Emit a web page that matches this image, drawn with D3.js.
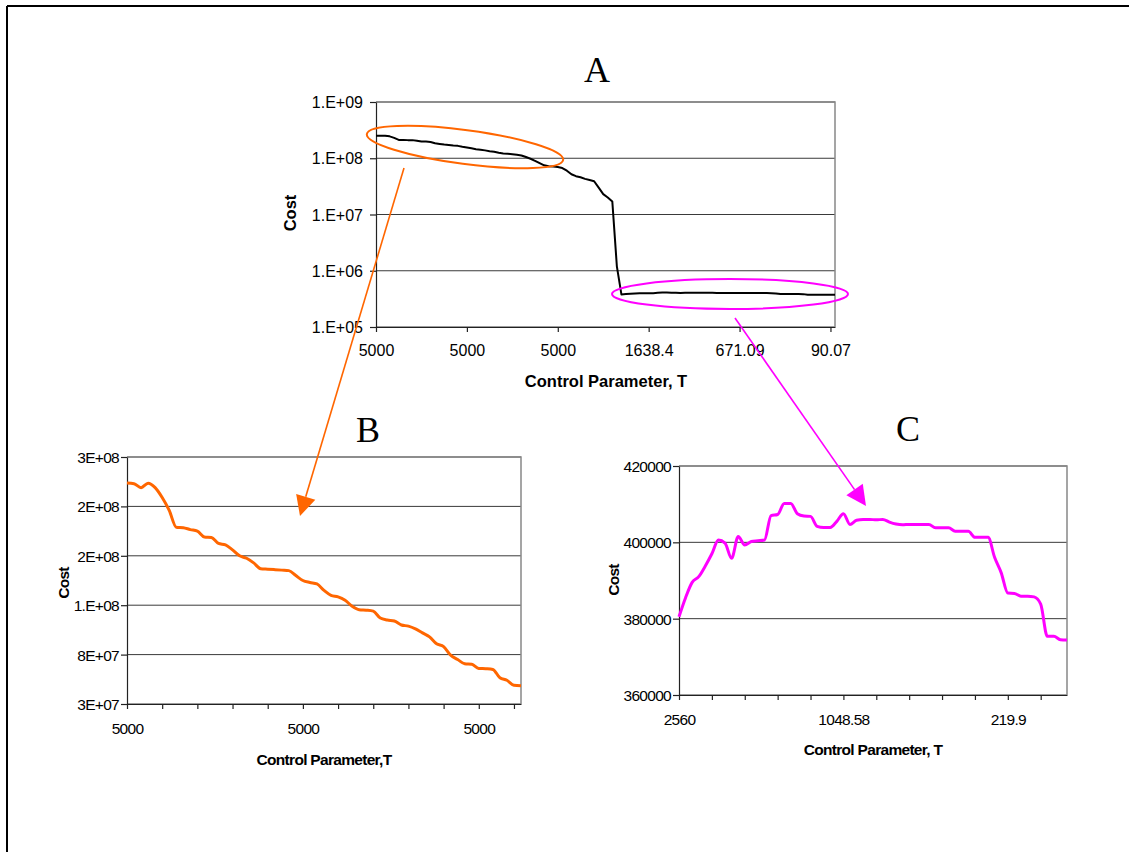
<!DOCTYPE html>
<html>
<head>
<meta charset="utf-8">
<script src="https://cdn.jsdelivr.net/npm/d3@7"></script>
<style>
  body { margin: 0; background: #fff; }
  text { font-family: "Liberation Sans", Arial, sans-serif; fill: #000; }
</style>
</head>
<body>
<div id="chart"></div>
<script>
// ---- data ----

// A: whole run, log axis
var costA = [
  2.52e8, 2.52e8, 2.52e8, 2.45e8, 2.3e8, 2.12e8, 2.12e8, 2.1e8, 2.1e8, 2.05e8,
  1.98e8, 1.98e8, 1.95e8, 1.85e8, 1.8e8, 1.75e8, 1.72e8, 1.68e8, 1.66e8, 1.6e8,
  1.55e8, 1.5e8, 1.45e8, 1.42e8, 1.38e8, 1.33e8, 1.3e8, 1.25e8, 1.22e8, 1.2e8,
  1.18e8, 1.15e8, 1.12e8, 1.05e8, 9.8e7, 9.0e7, 8.2e7, 7.5e7, 7.2e7, 7.1e7,
  7.0e7, 6.7e7, 6.0e7, 5.2e7, 4.8e7, 4.6e7, 4.3e7, 4.1e7, 3.9e7, 3.0e7,
  2.3e7, 2.0e7, 1.7e7, 1.2e6, 3.8e5, 3.85e5, 3.9e5, 3.95e5, 4.0e5, 4.0e5,
  4.0e5, 4.0e5, 4.05e5, 4.1e5, 4.1e5, 4.07e5, 4.05e5, 4.04e5, 4.05e5, 4.06e5,
  4.06e5, 4.06e5, 4.05e5, 4.05e5, 4.05e5, 4.04e5, 4.04e5, 4.04e5, 4.03e5, 4.03e5,
  4.03e5, 4.02e5, 4.02e5, 4.02e5, 4.01e5, 4.01e5, 4.01e5, 4.0e5, 3.95e5, 3.87e5,
  3.86e5, 3.86e5, 3.86e5, 3.85e5, 3.84e5, 3.76e5, 3.75e5, 3.75e5, 3.75e5, 3.74e5,
  3.74e5, 3.74e5
];
var xLabelsA = ["5000", "5000", "5000", "1638.4", "671.09", "90.07"];
var yTicksA = [1e5, 1e6, 1e7, 1e8, 1e9];
var yLabelsA = ["1.E+05", "1.E+06", "1.E+07", "1.E+08", "1.E+09"];

// B: zoom on the start of the run
var costB = [
  2.537e8, 2.53e8, 2.49e8, 2.535e8, 2.49e8, 2.39e8, 2.26e8, 2.09e8, 2.085e8, 2.065e8,
  2.05e8, 1.99e8, 1.985e8, 1.925e8, 1.91e8, 1.86e8, 1.80e8, 1.775e8, 1.728e8, 1.67e8,
  1.665e8, 1.66e8, 1.655e8, 1.65e8, 1.60e8, 1.55e8, 1.53e8, 1.515e8, 1.45e8, 1.40e8,
  1.385e8, 1.35e8, 1.29e8, 1.255e8, 1.25e8, 1.24e8, 1.17e8, 1.15e8, 1.14e8, 1.10e8,
  1.088e8, 1.06e8, 1.02e8, 9.8e7, 9.1e7, 8.8e7, 7.95e7, 7.5e7, 7.08e7, 7.03e7,
  6.6e7, 6.57e7, 6.5e7, 5.65e7, 5.4e7, 4.9e7, 4.85e7
];
var xLabelsB = ["5000", "5000", "5000"];
var yTicksB = [3e7, 8e7, 1.3e8, 1.8e8, 2.3e8, 2.8e8];
var yLabelsB = ["3E+07", "8E+07", "1.E+08", "2E+08", "2E+08", "3E+08"];

// C: zoom on the tail of the run
var costC = [
  380500, 385500, 389500, 391000, 393800, 397000, 400600, 399800, 395800, 401500,
  399300, 400200, 400400, 400600, 407000, 407300, 410200, 410200, 407500, 406900,
  406800, 404200, 403900, 403900, 405500, 407500, 404700, 405800, 406000, 406000,
  405900, 406000, 405300, 404800, 404600, 404700, 404700, 404700, 404700, 403800,
  403800, 403800, 402900, 402900, 402900, 401300, 401300, 401300, 396000, 392000,
  386700, 386600, 385900, 385900, 385700, 383800, 375400, 375400, 374500, 374400
];
var xLabelsC = ["2560", "1048.58", "219.9"];
var yTicksC = [360000, 380000, 400000, 420000];
var yLabelsC = ["360000", "380000", "400000", "420000"];

// ---- drawing ----
var svg = d3.select("#chart").append("svg")
    .attr("width", 1129)
    .attr("height", 852);

// page frame (top and left only)
svg.append("line").attr("x1", 7).attr("y1", 6).attr("x2", 1129).attr("y2", 6)
    .attr("stroke", "#000").attr("stroke-width", 2);
svg.append("line").attr("x1", 7).attr("y1", 6).attr("x2", 7).attr("y2", 852)
    .attr("stroke", "#000").attr("stroke-width", 2);

function drawPanel(p) {
    var g = svg.append("g").attr("transform", `translate(${p.left}, ${p.top})`);
    var n = p.data.length;

    var x = d3.scaleLinear().domain([0, n - 1]).range([0, p.width]);
    var y = (p.log ? d3.scaleLog() : d3.scaleLinear())
        .domain(d3.extent(p.yTicks))
        .range([p.height, 0]);

    // grid
    g.selectAll(".grid").data(p.yTicks).enter()
        .append("line")
        .attr("x1", 0).attr("x2", p.width)
        .attr("y1", d => y(d)).attr("y2", d => y(d))
        .attr("stroke", "#3a3a3a").attr("stroke-width", 1);

    // frame top / right
    g.append("path")
        .attr("d", `M0,0H${p.width}V${p.height}`)
        .attr("fill", "none").attr("stroke", "#888").attr("stroke-width", 1.5);

    var tickVals = d3.range(0, n, p.tickEvery);
    var xAxis = d3.axisBottom(x)
        .tickValues(tickVals)
        .tickSize(5).tickSizeOuter(0)
        .tickFormat((d, i) => i % p.labelEvery === 0 ? p.xLabels[i / p.labelEvery] : "");
    var yAxis = d3.axisLeft(y)
        .tickValues(p.yTicks)
        .tickSize(6).tickSizeOuter(0)
        .tickFormat((d, i) => p.yLabels[i]);

    var gx = g.append("g")
        .attr("transform", `translate(0, ${p.height})`)
        .call(xAxis);
    var gy = g.append("g").call(yAxis);

    [gx, gy].forEach(function (a) {
        a.selectAll("path, line").attr("stroke", "#222").attr("stroke-width", 1.2);
        a.selectAll("text")
            .style("font-size", p.fontSize + "px")
            .style("letter-spacing", p.spacing + "px")
            .style("font-family", '"Liberation Sans", Arial, sans-serif');
    });
    gx.selectAll("text").attr("dy", null).attr("y", p.xLabelDy);
    gy.selectAll("text").attr("x", p.yLabelDx).attr("dy", "0.35em");

    // line
    var line = d3.line()
        .x((d, i) => x(i))
        .y(d => y(d))
        .curve(p.curve);

    g.append("path")
        .datum(p.data)
        .attr("d", line)
        .attr("fill", "none")
        .attr("stroke", p.color)
        .attr("stroke-width", p.lineWidth)
        .attr("stroke-linejoin", "round");

    // titles
    g.append("text")
        .attr("x", p.titleX - p.left).attr("y", p.titleY - p.top)
        .attr("text-anchor", "middle")
        .style("font-size", p.titleSize + "px")
        .style("letter-spacing", p.spacing + "px")
        .style("font-weight", "bold")
        .text(p.xTitle);

    g.append("text")
        .attr("transform", `translate(${p.costX - p.left}, ${p.costY - p.top}) rotate(-90)`)
        .attr("text-anchor", "middle")
        .style("font-size", p.titleSize + "px")
        .style("letter-spacing", p.spacing + "px")
        .style("font-weight", "bold")
        .text("Cost");

    svg.append("text")
        .attr("x", p.letterX).attr("y", p.letterY)
        .attr("text-anchor", "middle")
        .style("font-family", '"Liberation Serif", "Times New Roman", serif')
        .style("font-size", "36px")
        .text(p.letter);
}

drawPanel({
    letter: "A", letterX: 597, letterY: 82,
    left: 376, top: 102, width: 459, height: 225,
    data: costA, log: true, yTicks: yTicksA, yLabels: yLabelsA,
    xLabels: xLabelsA, tickEvery: 20, labelEvery: 1, xLabelDy: 29, yLabelDx: -13,
    color: "#000", lineWidth: 2, curve: d3.curveLinear,
    fontSize: 16, titleSize: 16.5, spacing: 0,
    xTitle: "Control Parameter, T", titleX: 606, titleY: 387,
    costX: 296, costY: 213
});

drawPanel({
    letter: "B", letterX: 368, letterY: 442,
    left: 127, top: 457, width: 394, height: 247,
    data: costB, log: false, yTicks: yTicksB, yLabels: yLabelsB,
    xLabels: xLabelsB, tickEvery: 5, labelEvery: 5, xLabelDy: 30, yLabelDx: -8,
    color: "#FF6600", lineWidth: 3, curve: d3.curveMonotoneX,
    fontSize: 15.5, titleSize: 15.5, spacing: -0.7,
    xTitle: "Control Parameter,T", titleX: 324, titleY: 765,
    costX: 69, costY: 583
});

drawPanel({
    letter: "C", letterX: 908, letterY: 441,
    left: 679, top: 466, width: 388, height: 229,
    data: costC, log: false, yTicks: yTicksC, yLabels: yLabelsC,
    xLabels: xLabelsC, tickEvery: 5, labelEvery: 5, xLabelDy: 30, yLabelDx: -8,
    color: "#FF00FF", lineWidth: 3, curve: d3.curveMonotoneX,
    fontSize: 15.5, titleSize: 15.5, spacing: -0.7,
    xTitle: "Control Parameter, T", titleX: 873, titleY: 755,
    costX: 619, costY: 580
});

// ---- callouts: ellipses and arrows ----
function arrow(color, x1, y1, x2, y2) {
    var ang = Math.atan2(y2 - y1, x2 - x1);
    var len = 20, half = 10;
    var bx = x2 - len * Math.cos(ang), by = y2 - len * Math.sin(ang);
    svg.append("line")
        .attr("x1", x1).attr("y1", y1).attr("x2", bx).attr("y2", by)
        .attr("stroke", color).attr("stroke-width", 1.6);
    var pts = [
        [x2, y2],
        [bx + half * Math.sin(ang), by - half * Math.cos(ang)],
        [bx - half * Math.sin(ang), by + half * Math.cos(ang)]
    ];
    svg.append("polygon")
        .attr("points", pts.map(q => q.join(",")).join(" "))
        .attr("fill", color);
}

svg.append("ellipse")
    .attr("transform", "translate(465, 147) rotate(7.5)")
    .attr("rx", 99).attr("ry", 17)
    .attr("fill", "none").attr("stroke", "#FF6600").attr("stroke-width", 2);

svg.append("ellipse")
    .attr("transform", "translate(730, 294)")
    .attr("rx", 118).attr("ry", 15)
    .attr("fill", "none").attr("stroke", "#FF00FF").attr("stroke-width", 2);

arrow("#FF6600", 404, 168, 300, 516);
arrow("#FF00FF", 735, 318, 866, 506);
</script>
</body>
</html>
